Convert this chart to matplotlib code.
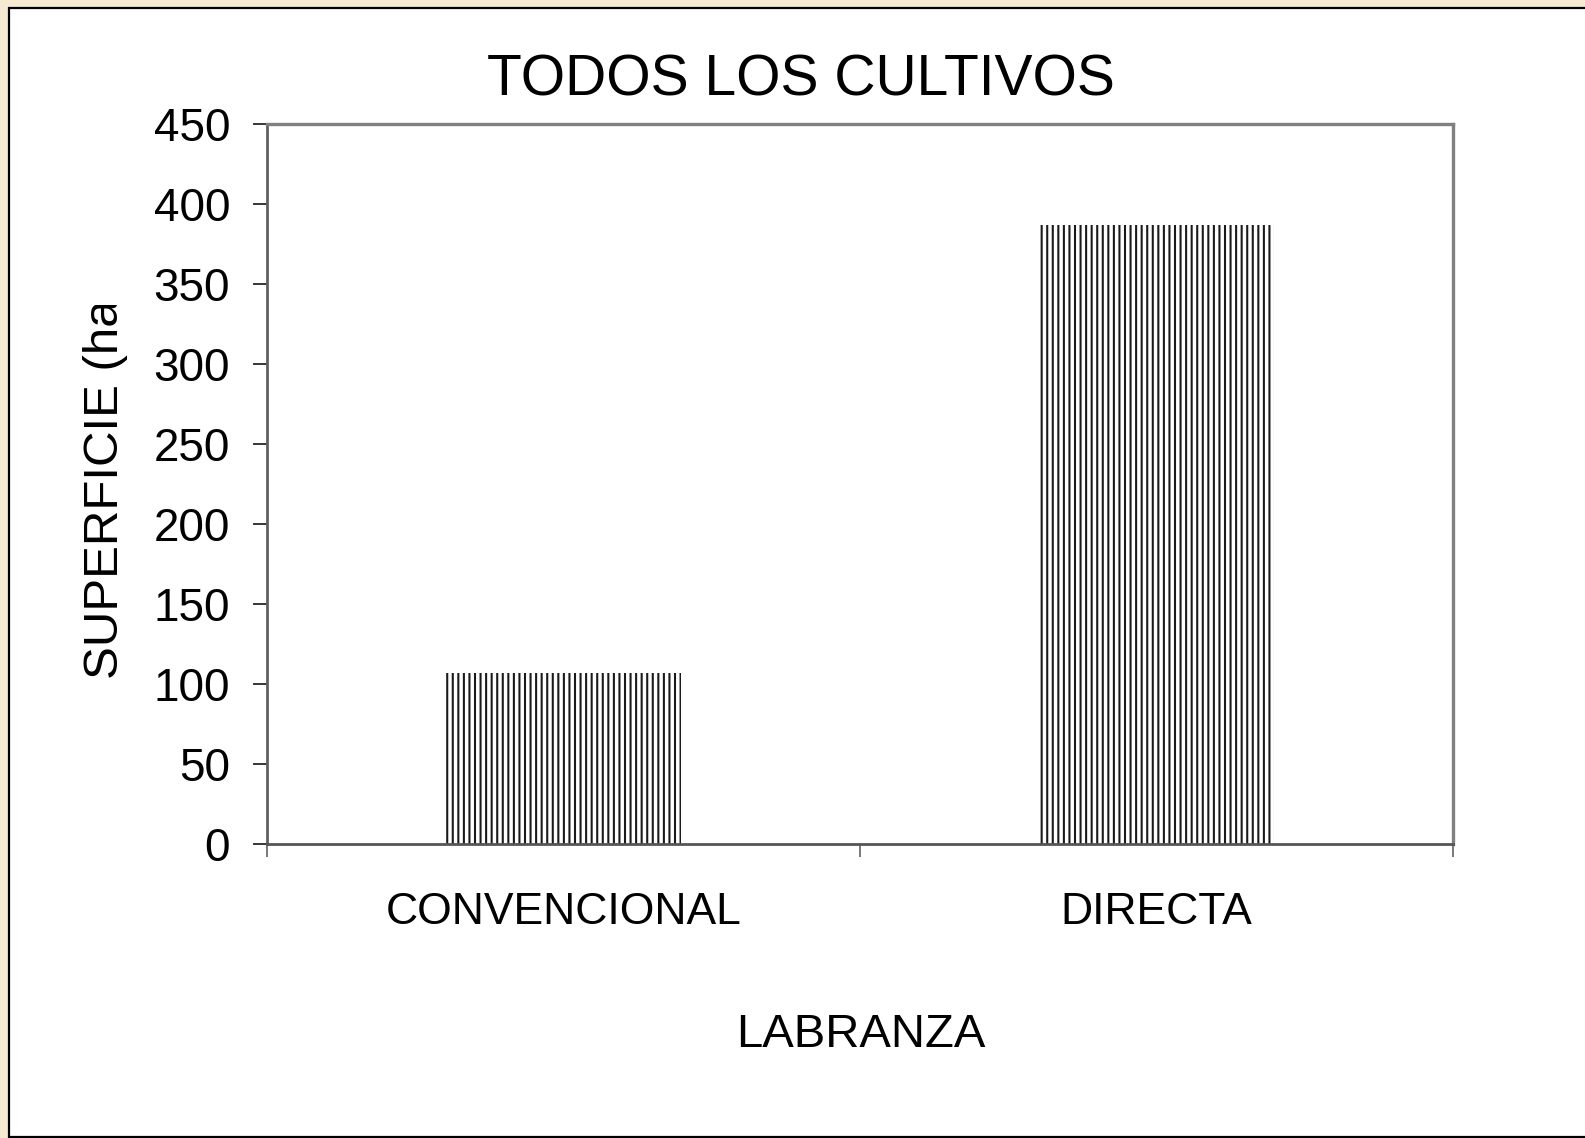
import matplotlib
matplotlib.use("Agg")
import matplotlib.pyplot as plt
from matplotlib.patches import Rectangle
from matplotlib.transforms import Bbox, TransformedBbox

plt.rcParams["font.family"] = ["Liberation Sans", "DejaVu Sans"]
plt.rcParams["hatch.linewidth"] = 1.5

# Data
categories = ["CONVENCIONAL", "DIRECTA"]
superficie = [107, 387]
yticks = [0, 50, 100, 150, 200, 250, 300, 350, 400, 450]

W, H = 1585, 1138
fig = plt.figure(figsize=(W / 100, H / 100), dpi=100)
fig.patch.set_facecolor("#f6ead2")

# White panel with black frame, behind the axes
panel = Rectangle((9 / W, 1 / H), 1 - 9 / W + 0.01, 1 - 8 / H - 1 / H,
                  transform=fig.transFigure, facecolor="white",
                  edgecolor="black", linewidth=1.6, zorder=-10)
fig.patches.append(panel)

ax = fig.add_axes([267 / W, 294 / H, (1453 - 267) / W, (844 - 124) / H])
ax.set_zorder(1)
ax.set_facecolor("white")

x = list(range(len(categories)))
ax.bar(x, superficie, width=0.395, color="white", edgecolor="#1a1a1a",
       linewidth=0, hatch="|||", zorder=2)

ax.set_xlim(-0.5, 1.5)
ax.set_ylim(0, 450)
ax.set_yticks(yticks)
ax.set_yticklabels([str(v) for v in yticks], fontsize=33)
ax.tick_params(axis="y", direction="out", length=10, width=1.1,
               color="black", pad=16.5)

# category boundaries as major ticks, names as minor ticks
ax.set_xticks([-0.5, 0.5, 1.5])
ax.set_xticklabels(["", "", ""])
ax.set_xticks(x, minor=True)
ax.set_xticklabels(categories, minor=True, fontsize=32)
ax.tick_params(axis="x", which="major", direction="out", length=9.5,
               width=1.1, color="#555555")
ax.tick_params(axis="x", which="minor", length=0, pad=34.5)

for side in ["top", "right"]:
    ax.spines[side].set_color("#808080")
    ax.spines[side].set_linewidth(2.4)
ax.spines["left"].set_color("#606060")
ax.spines["left"].set_linewidth(2.0)
ax.spines["bottom"].set_color("#555555")
ax.spines["bottom"].set_linewidth(2.0)
ax.spines["bottom"].set_zorder(3)

fig.text(801 / W, 1 - 80 / H, "TODOS LOS CULTIVOS", fontsize=41,
         ha="center", va="center")
fig.text(861 / W, 1 - 1035 / H, "LABRANZA", fontsize=34,
         ha="center", va="center")

ylab = fig.text(106 / W, 1 - 679 / H, "SUPERFICIE (ha)", fontsize=35.5,
                rotation=90, ha="center", va="bottom")
# the original label is cut off just above "(ha"
ylab.set_clip_box(TransformedBbox(Bbox([[0, 0], [1, 1 - 305 / H]]),
                                  fig.transFigure))
ylab.set_clip_on(True)

fig.savefig("out.png", dpi=100, facecolor=fig.get_facecolor())
